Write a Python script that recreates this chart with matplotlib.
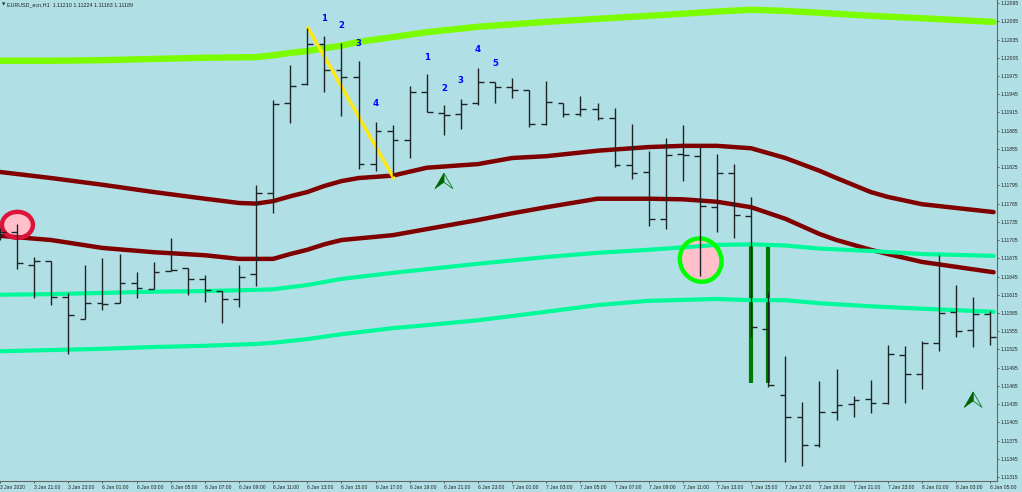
import matplotlib
matplotlib.use("Agg")
import matplotlib.pyplot as plt
from matplotlib.patches import Ellipse, Polygon
from matplotlib.transforms import Affine2D

plt.rcParams["font.family"] = ["Liberation Sans", "DejaVu Sans"]

BG = "#B0E0E6"

# hourly bars, EURUSD H1
OPENS = [1.11718, 1.11718, 1.11664, 1.11671, 1.11611, 1.11575, 1.11601, 1.11601, 1.11634, 1.11624,
         1.11654, 1.11659, 1.11641, 1.11621, 1.11608, 1.11649, 1.11782, 1.11930, 1.11962, 1.12028,
         1.11985, 1.11973, 1.11830, 1.11884, 1.11870, 1.11949, 1.11914, 1.11912, 1.11930, 1.11965,
         1.11957, 1.11952, 1.11896, 1.11930, 1.11912, 1.11921, 1.11906, 1.11828, 1.11817, 1.11740,
         1.11847, 1.11843, 1.11759, 1.11815, 1.11745, 1.11559, 1.11450, 1.11414, 1.11368, 1.11422,
         1.11435, 1.11443, 1.11437, 1.11516, 1.11485, 1.11536, 1.11587, 1.11557, 1.11583]
HIGHS = [1.11725, 1.11731, 1.11677, 1.11671, 1.11618, 1.11664, 1.11675, 1.11682, 1.11652, 1.11669,
         1.11708, 1.11659, 1.11647, 1.11621, 1.11664, 1.11796, 1.11935, 1.11993, 1.12054, 1.12041,
         1.12029, 1.12000, 1.11899, 1.11894, 1.11958, 1.11978, 1.11927, 1.11937, 1.11988, 1.11965,
         1.11972, 1.11952, 1.11967, 1.11930, 1.11942, 1.11930, 1.11922, 1.11896, 1.11852, 1.11873,
         1.11894, 1.11858, 1.11847, 1.11830, 1.11776, 1.11620, 1.11514, 1.11439, 1.11473, 1.11493,
         1.11448, 1.11475, 1.11532, 1.11531, 1.11539, 1.11680, 1.11631, 1.11611, 1.11588]
LOWS = [1.11705, 1.11657, 1.11610, 1.11598, 1.11518, 1.11575, 1.11590, 1.11601, 1.11610, 1.11624,
        1.11654, 1.11615, 1.11603, 1.11568, 1.11595, 1.11629, 1.11750, 1.11898, 1.11960, 1.11949,
        1.11909, 1.11822, 1.11819, 1.11810, 1.11840, 1.11916, 1.11878, 1.11888, 1.11927, 1.11930,
        1.11939, 1.11891, 1.11894, 1.11907, 1.11909, 1.11902, 1.11825, 1.11805, 1.11728, 1.11723,
        1.11802, 1.11646, 1.11718, 1.11708, 1.11545, 1.11463, 1.11340, 1.11333, 1.11364, 1.11409,
        1.11414, 1.11420, 1.11435, 1.11437, 1.11460, 1.11522, 1.11545, 1.11529, 1.11532]
CLOSES = [1.11718, 1.11667, 1.11671, 1.11611, 1.11582, 1.11601, 1.11600, 1.11634, 1.11626, 1.11652,
          1.11656, 1.11641, 1.11623, 1.11608, 1.11644, 1.11782, 1.11929, 1.11958, 1.12028, 1.11985,
          1.11973, 1.11830, 1.11884, 1.11870, 1.11949, 1.11916, 1.11911, 1.11929, 1.11965, 1.11957,
          1.11952, 1.11896, 1.11932, 1.11912, 1.11921, 1.11906, 1.11828, 1.11815, 1.11740, 1.11845,
          1.11845, 1.11761, 1.11815, 1.11746, 1.11562, 1.11466, 1.11414, 1.11368, 1.11422, 1.11433,
          1.11442, 1.11437, 1.11518, 1.11485, 1.11536, 1.11585, 1.11555, 1.11583, 1.11545]

# band lines
LIME_IDX = [0, 3, 6, 9, 12, 15, 16, 17, 18, 20, 21, 23, 25, 28, 32, 35, 38, 42, 44, 46, 48, 51, 54, 58.2]
LIME_TOP = [1.12000, 1.12000, 1.12001, 1.12003, 1.12005, 1.12006, 1.12009, 1.12013, 1.12016, 1.12025,
            1.12031, 1.12039, 1.12047, 1.12056, 1.12064, 1.12069, 1.12074, 1.12081, 1.12084, 1.12082,
            1.12079, 1.12074, 1.12070, 1.12064]

RED_UP_IDX = [0, 3, 6, 9, 12, 14, 15, 16, 17, 18, 19, 20, 21, 23, 25, 28, 30, 32, 35, 38, 40, 42, 44,
              46, 48, 49, 51, 52, 54, 58.2]
RED_UP = [1.11817, 1.11807, 1.11796, 1.11784, 1.11773, 1.11766, 1.11765, 1.11769, 1.11777, 1.11784,
          1.11794, 1.11802, 1.11807, 1.11811, 1.11824, 1.11830, 1.11840, 1.11843, 1.11852, 1.11858,
          1.11860, 1.11860, 1.11856, 1.11840, 1.11819, 1.11807, 1.11784, 1.11776, 1.11764, 1.11751]

RED_LO_IDX = [0, 3, 6, 9, 12, 14, 16, 17, 18, 19, 20, 23, 25, 28, 30, 32, 35, 38, 40, 42, 44, 46, 48,
              49, 51, 52, 54, 58.2]
RED_LO = [1.11712, 1.11705, 1.11692, 1.11685, 1.11680, 1.11674, 1.11674, 1.11682, 1.11689, 1.11698,
          1.11705, 1.11713, 1.11723, 1.11738, 1.11749, 1.11759, 1.11773, 1.11773, 1.11772, 1.11768,
          1.11759, 1.11740, 1.11715, 1.11705, 1.11689, 1.11682, 1.11669, 1.11652]

MINT_IDX = [0, 3, 6, 9, 12, 15, 16, 18, 20, 23, 25, 28, 32, 35, 38, 42, 44, 46, 48, 51, 54, 58.2]
MINT_UP = [1.11615, 1.11616, 1.11618, 1.11620, 1.11621, 1.11623, 1.11624, 1.11631, 1.11641, 1.11651,
           1.11657, 1.11666, 1.11677, 1.11684, 1.11689, 1.11697, 1.11698, 1.11696, 1.11691, 1.11687,
           1.11682, 1.11679]
MINT_LO = [1.11522, 1.11524, 1.11526, 1.11529, 1.11531, 1.11534, 1.11536, 1.11542, 1.11550, 1.11560,
           1.11565, 1.11573, 1.11587, 1.11598, 1.11605, 1.11608, 1.11606, 1.11606, 1.11601, 1.11596,
           1.11592, 1.11587]

# annotations
TREND_IDX = [18.0, 23.1]
TREND_PRICE = [1.12056, 1.11805]
SPIKE_IDX = [44, 45]
SPIKE_TOP = 1.11695
SPIKE_BOTTOM = 1.11470

WAVE_LABELS = ["1", "2", "3", "4", "1", "2", "3", "4", "5"]
WAVE_IDX = [19, 20, 21, 22, 25, 26, 27, 28, 29]
WAVE_PRICE = [1.12069, 1.12058, 1.12029, 1.11929, 1.12006, 1.11955, 1.11967, 1.12018, 1.11995]

ARROW_IDX = [26, 57]
ARROW_PRICE = [1.11815, 1.11455]

# axis labels
Y_TICKS = [round(1.12095 - 0.0003 * k, 5) for k in range(27)]
X_TICKS = [0] + list(range(2, 59, 2))
X_LABELS = ["3 Jan 2020", "3 Jan 21:00", "3 Jan 23:00",
            "6 Jan 01:00", "6 Jan 03:00", "6 Jan 05:00", "6 Jan 07:00", "6 Jan 09:00", "6 Jan 11:00",
            "6 Jan 13:00", "6 Jan 15:00", "6 Jan 17:00", "6 Jan 19:00", "6 Jan 21:00", "6 Jan 23:00",
            "7 Jan 01:00", "7 Jan 03:00", "7 Jan 05:00", "7 Jan 07:00", "7 Jan 09:00", "7 Jan 11:00",
            "7 Jan 13:00", "7 Jan 15:00", "7 Jan 17:00", "7 Jan 19:00", "7 Jan 21:00", "7 Jan 23:00",
            "8 Jan 01:00", "8 Jan 03:00", "8 Jan 05:00"]

fig = plt.figure(figsize=(10.22, 4.92), dpi=100, facecolor=BG)
ax = fig.add_axes([0, 11 / 492, 996.5 / 1022, 481 / 492], facecolor=BG)
ax.set_xlim(0.029, 58.37)
ax.set_ylim(1.113085, 1.12100)

for name in ("top", "left"):
    ax.spines[name].set_visible(False)
for name in ("right", "bottom"):
    ax.spines[name].set_color("#666666")
    ax.spines[name].set_linewidth(0.8)
ax.yaxis.tick_right()
ax.set_yticks(Y_TICKS)
ax.set_yticklabels([f"{v:.5f}" for v in Y_TICKS])
ax.set_xticks(X_TICKS)
ax.set_xticklabels(X_LABELS, ha="left")
ax.tick_params(axis="y", length=1.5, width=0.6, color="#444444", labelsize=3.6, pad=1.5, labelcolor="#222222")
ax.tick_params(axis="x", length=1.5, width=0.6, color="#444444", labelsize=3.6, pad=1.2, labelcolor="#222222")

# bands
ax.plot(LIME_IDX, LIME_TOP, color="#7CFC00", lw=4.6, solid_capstyle="round", zorder=2)
ax.plot(RED_UP_IDX, RED_UP, color="#800000", lw=3.2, solid_capstyle="round", zorder=2)
ax.plot(RED_LO_IDX, RED_LO, color="#800000", lw=3.2, solid_capstyle="round", zorder=2)
ax.plot(MINT_IDX, MINT_UP, color="#00FA9A", lw=3, solid_capstyle="round", zorder=2)
ax.plot(MINT_IDX, MINT_LO, color="#00FA9A", lw=3, solid_capstyle="round", zorder=2)

# spike bars under the bands
ax.vlines(SPIKE_IDX, SPIKE_BOTTOM, SPIKE_TOP, color="#007A00", lw=3, zorder=1.5)

# ohlc bars
idx = list(range(len(OPENS)))
tick = 0.34
ax.vlines(idx, LOWS, HIGHS, color="#1c2426", lw=1.0, zorder=4)
ax.hlines(OPENS, [i - tick for i in idx], idx, color="#1c2426", lw=1.0, zorder=4)
ax.hlines(CLOSES, idx, [i + tick for i in idx], color="#1c2426", lw=1.0, zorder=4)

ax.plot(TREND_IDX, TREND_PRICE, color="#FFE812", lw=2.5, solid_capstyle="butt", zorder=3)

# marked ellipses, sized in pixels
def px_at(i, price):
    x, y = ax.transData.transform((i, price))
    return Affine2D().translate(x, y)

def ring(i, price, w, h, angle, edge):
    tr = px_at(i, price)
    ax.add_patch(Ellipse((0, 0), w, h, angle=angle, facecolor="#FFC0CB", edgecolor="none",
                         transform=tr, zorder=1.8))
    ax.add_patch(Ellipse((0, 0), w, h, angle=angle, facecolor="none", edgecolor=edge, lw=3.2,
                         transform=tr, zorder=3))

ring(1.02, 1.11730, 31, 26, 0, "#DC143C")
ring(41.04, 1.11672, 41, 44, 28, "#00FF00")

# arrow marks
for i, price in zip(ARROW_IDX, ARROW_PRICE):
    tr = px_at(i, price)
    ax.add_patch(Polygon([(0, 0), (9, -15.5), (0, -9)], closed=True, facecolor="none",
                         edgecolor="#1E8A3C", lw=0.7, transform=tr, zorder=5))
    ax.add_patch(Polygon([(0, 0), (-9, -15.5), (0, -9)], closed=True, facecolor="#006400",
                         edgecolor="#006400", lw=0.5, transform=tr, zorder=5))

for label, i, price in zip(WAVE_LABELS, WAVE_IDX, WAVE_PRICE):
    ax.text(i, price, label, color="#0000FF", fontsize=6.2, fontweight="bold", family=["DejaVu Sans"],
            ha="center", va="center", zorder=6)

fig.text(1.5 / 1022, 1 - 4.5 / 492, "▼", fontsize=3.2, color="#222222", va="center",
         family=["DejaVu Sans"])
fig.text(7 / 1022, 1 - 4.5 / 492, "EURUSD_ecn,H1  1.11210 1.11224 1.11163 1.11189",
         fontsize=3.9, color="#222222", va="center")

fig.savefig("out.png", dpi=100)
